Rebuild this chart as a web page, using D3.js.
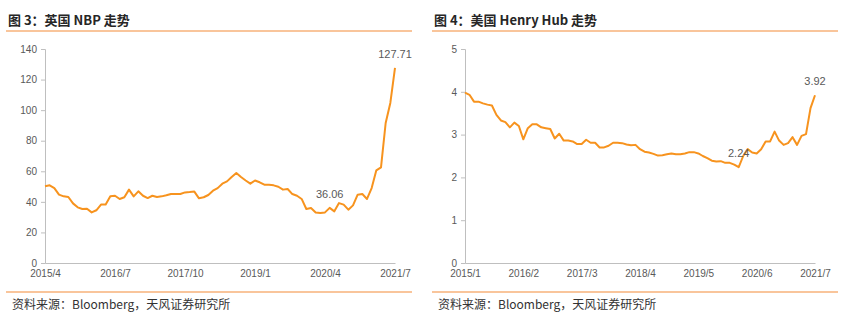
<!DOCTYPE html>
<html>
<head>
<meta charset="utf-8">
<script src="https://cdn.jsdelivr.net/npm/d3@7"></script>
<style>
  body { margin: 0; background: #fff; }
  svg { display: block; }
</style>
</head>
<body>
<svg id="chart" width="847" height="320"></svg>
<script>
// 英国 NBP 月度（2015/4 - 2021/7）
const nbpLabels = ["2015/4", "2016/7", "2017/10", "2019/1", "2020/4", "2021/7"];
const nbpValues = [50.2, 50.8, 49, 44.7, 43.6, 43.2, 39, 36.4, 35.3, 35.5,
    33.1, 34.5, 38.2, 38.2, 43.6, 44, 41.9, 43, 48, 43.6,
    46.9, 44, 42.5, 44, 43.2, 43.6, 44.3, 45.1, 45.1, 45.1,
    46.2, 46.4, 46.7, 42.3, 43, 44.5, 47.3, 49, 51.9, 53.4,
    56.3, 58.9, 56.3, 54, 51.9, 54, 52.8, 51.2, 51.2, 50.8,
    49.9, 48, 48.4, 45.1, 44, 41.9, 35.3, 36, 33.1, 32.7,
    33.1, 36.06, 33.8, 39.2, 38.2, 34.9, 37.7, 44.7, 45.1, 41.9,
    49, 60.6, 62.6, 91.6, 104.7, 127.71];
const nbpTicks = [0, 20, 40, 60, 80, 100, 120, 140];

// 美国 Henry Hub 月度（2015/1 - 2021/7）
const hhLabels = ["2015/1", "2016/2", "2017/3", "2018/4", "2019/5", "2020/6", "2021/7"];
const hhValues = [3.98, 3.93, 3.77, 3.77, 3.73, 3.70, 3.68, 3.46, 3.33, 3.29,
    3.17, 3.28, 3.20, 2.89, 3.15, 3.24, 3.24, 3.17, 3.15, 3.13,
    2.91, 3.02, 2.86, 2.86, 2.84, 2.78, 2.78, 2.88, 2.81, 2.81,
    2.70, 2.70, 2.74, 2.81, 2.81, 2.80, 2.77, 2.75, 2.76, 2.66,
    2.60, 2.58, 2.55, 2.51, 2.52, 2.54, 2.56, 2.54, 2.54, 2.56,
    2.59, 2.59, 2.56, 2.50, 2.45, 2.39, 2.37, 2.38, 2.34, 2.34,
    2.30, 2.24, 2.50, 2.66, 2.58, 2.56, 2.66, 2.84, 2.84, 3.07,
    2.86, 2.76, 2.80, 2.94, 2.76, 2.97, 3.01, 3.62, 3.92];
const hhTicks = [0, 1, 2, 3, 4, 5];

const panels = [
    { title: "图 3：英国 NBP 走势", values: nbpValues, labels: nbpLabels, ticks: nbpTicks,
      ymax: 140, labelStep: 15, left: 0, axisX: 45, marks: [61, 75] },
    { title: "图 4：美国 Henry Hub 走势", values: hhValues, labels: hhLabels, ticks: hhTicks,
      ymax: 5, labelStep: 13, left: 426, axisX: 465, marks: [61, 78] }
];

const svg = d3.select("#chart");
const lineColor = "#f7931e";
const ruleColor = "#f7b27a";
const plotTop = 49, plotBottom = 263, plotW = 350;

panels.forEach(p => {
    const g = svg.append("g").attr("transform", `translate(${p.left},0)`);

    g.append("text")
        .attr("x", 8).attr("y", 25)
        .attr("font-family", "'Noto Sans CJK SC', sans-serif")
        .attr("font-weight", "bold")
        .attr("font-size", "13px")
        .attr("fill", "#262626")
        .text(p.title);

    g.append("line")
        .attr("x1", 6).attr("x2", 412)
        .attr("y1", 31).attr("y2", 31)
        .attr("stroke", ruleColor).attr("stroke-width", 1.5);

    g.append("line")
        .attr("x1", 6).attr("x2", 412)
        .attr("y1", 292).attr("y2", 292)
        .attr("stroke", ruleColor).attr("stroke-width", 1.5);

    g.append("text")
        .attr("x", 12).attr("y", 309)
        .attr("font-family", "'Noto Sans CJK SC', sans-serif")
        .attr("font-size", "12px")
        .attr("fill", "#333")
        .text("资料来源：Bloomberg，天风证券研究所");

    const ax = p.axisX - p.left;
    const x = d3.scaleLinear()
        .domain([0, p.values.length - 1])
        .range([ax, ax + plotW]);
    const y = d3.scaleLinear()
        .domain([0, p.ymax])
        .range([plotBottom, plotTop]);

    const yAxis = g.append("g")
        .attr("transform", `translate(${ax},0)`)
        .call(d3.axisLeft(y).tickValues(p.ticks).tickFormat(d3.format("d"))
            .tickSize(4).tickPadding(4));
    yAxis.selectAll("line, path").attr("stroke", "#bfbfbf");

    const xAxis = g.append("g")
        .attr("transform", `translate(0,${plotBottom})`)
        .call(d3.axisBottom(x)
            .tickValues(p.labels.map((d, i) => i * p.labelStep))
            .tickFormat((d, i) => p.labels[i])
            .tickSize(0).tickPadding(7)
            .tickSizeOuter(0));
    xAxis.select(".domain").attr("stroke", "#bfbfbf");

    [yAxis, xAxis].forEach(a => a.selectAll("text")
        .attr("font-family", "'Liberation Sans', Arial, sans-serif")
        .attr("font-size", "10px")
        .attr("fill", "#595959"));

    g.append("path")
        .datum(p.values)
        .attr("fill", "none")
        .attr("stroke", lineColor)
        .attr("stroke-width", 2)
        .attr("stroke-linejoin", "round")
        .attr("d", d3.line().x((d, i) => x(i)).y(d => y(d)));

    p.marks.forEach(i => {
        g.append("text")
            .attr("x", x(i))
            .attr("y", y(p.values[i]) - 10)
            .attr("text-anchor", "middle")
            .attr("font-family", "'Liberation Sans', Arial, sans-serif")
            .attr("font-size", "11px")
            .attr("fill", "#595959")
            .text(p.values[i]);
    });
});
</script>
</body>
</html>
